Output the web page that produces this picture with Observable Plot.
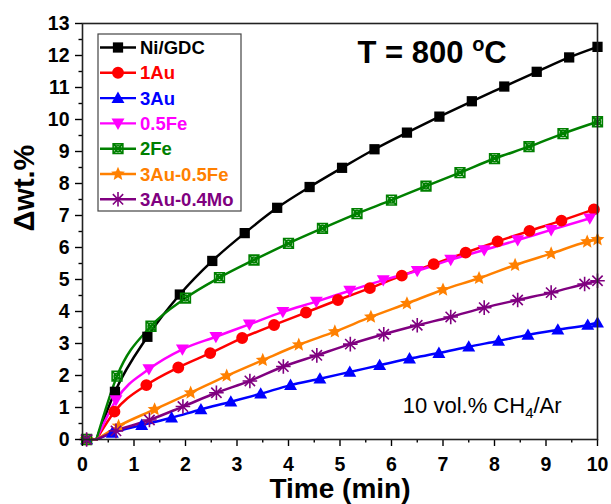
<!DOCTYPE html>
<html>
<head>
<meta charset="utf-8">
<script src="https://cdn.jsdelivr.net/npm/d3@7"></script>
<script src="https://cdn.jsdelivr.net/npm/@observablehq/plot@0.6"></script>
<style>
  html, body { margin: 0; padding: 0; background: #fff; }
  #chart svg { display: block; }
</style>
</head>
<body>
<div id="chart"></div>
<script>
// Carbon uptake (weight change) of anodes under 10 vol.% CH4/Ar at 800 °C
const seriesNames = ["Ni/GDC", "1Au", "3Au", "0.5Fe", "2Fe", "3Au-0.5Fe", "3Au-0.4Mo"];
const seriesColors = ["#000000", "#ff0000", "#0000ff", "#ff00ff", "#008000", "#ff8000", "#800080"];

// common baseline before weight gain starts (time in min, Δwt.%)
const leadTime = [0.08, 0.27];
const leadValue = [0, 0];

const timeNiGDC = [0.63, 1.26, 1.89, 2.52, 3.15, 3.78, 4.41, 5.04, 5.67, 6.30, 6.93, 7.56, 8.19, 8.82, 9.45, 10];
const wtNiGDC   = [1.49, 3.21, 4.53, 5.58, 6.45, 7.24, 7.89, 8.49, 9.07, 9.59, 10.09, 10.57, 11.03, 11.49, 11.94, 12.27];

const time1Au = [0.62, 1.24, 1.86, 2.48, 3.10, 3.72, 4.34, 4.96, 5.58, 6.20, 6.82, 7.44, 8.06, 8.68, 9.30, 9.93];
const wt1Au   = [0.87, 1.70, 2.25, 2.70, 3.17, 3.58, 3.97, 4.36, 4.73, 5.12, 5.48, 5.84, 6.19, 6.52, 6.84, 7.19];

const time3Au = [0.58, 1.15, 1.73, 2.30, 2.88, 3.46, 4.04, 4.61, 5.19, 5.77, 6.35, 6.92, 7.50, 8.08, 8.65, 9.23, 9.81, 10];
const wt3Au   = [0.21, 0.45, 0.68, 0.94, 1.18, 1.43, 1.70, 1.90, 2.11, 2.32, 2.53, 2.70, 2.90, 3.08, 3.27, 3.43, 3.58, 3.65];

const time05Fe = [0.65, 1.29, 1.94, 2.59, 3.24, 3.89, 4.54, 5.19, 5.84, 6.50, 7.15, 7.80, 8.45, 9.10, 9.85];
const wt05Fe   = [1.23, 2.20, 2.82, 3.21, 3.60, 3.99, 4.31, 4.65, 4.98, 5.27, 5.62, 5.92, 6.23, 6.55, 6.91];

const time2Fe = [0.67, 1.33, 2.00, 2.66, 3.33, 4.00, 4.66, 5.33, 6.00, 6.67, 7.33, 8.00, 8.67, 9.33, 10];
const wt2Fe   = [1.98, 3.54, 4.42, 5.06, 5.61, 6.13, 6.60, 7.06, 7.48, 7.92, 8.34, 8.78, 9.15, 9.56, 9.93];

const time3Au05Fe = [0.70, 1.40, 2.10, 2.80, 3.50, 4.20, 4.90, 5.60, 6.30, 7.00, 7.70, 8.40, 9.10, 9.80, 10];
const wt3Au05Fe   = [0.42, 0.94, 1.46, 1.99, 2.48, 2.96, 3.37, 3.83, 4.25, 4.68, 5.04, 5.45, 5.81, 6.18, 6.25];

const time3Au04Mo = [0.65, 1.30, 1.95, 2.60, 3.25, 3.90, 4.55, 5.20, 5.85, 6.50, 7.15, 7.80, 8.45, 9.10, 9.75, 10];
const wt3Au04Mo   = [0.27, 0.61, 1.03, 1.46, 1.83, 2.28, 2.63, 2.98, 3.29, 3.57, 3.83, 4.12, 4.36, 4.59, 4.86, 4.96];

const xTicks = d3.range(0, 11, 1);
const yTicks = d3.range(0, 14, 1);

const titleText = ["T = 800 ", "o", "C"];
const noteText = ["10 vol.% CH", "4", "/Ar"];

// ---- marker shapes (size is the symbol area, as Plot passes it) ----
const shape = f => ({ draw(ctx, size) { f(ctx, Math.sqrt(size / Math.PI)); } });
const symSquare = shape((c, r) => { const s = r * 0.95; c.rect(-s, -s, 2 * s, 2 * s); });
const symCircle = shape((c, r) => { const s = r * 1.1; c.moveTo(s, 0); c.arc(0, 0, s, 0, 2 * Math.PI); });
const symTriUp = shape((c, r) => { const s = r * 1.2; c.moveTo(0, -s); c.lineTo(s, s * 0.75); c.lineTo(-s, s * 0.75); c.closePath(); });
const symTriDown = shape((c, r) => { const s = r * 1.2; c.moveTo(0, s); c.lineTo(s, -s * 0.75); c.lineTo(-s, -s * 0.75); c.closePath(); });
const symBoxX = shape((c, r) => {
  const s = r * 0.9;
  c.rect(-s, -s, 2 * s, 2 * s);
  c.moveTo(-s, -s); c.lineTo(s, s); c.moveTo(s, -s); c.lineTo(-s, s);
  c.moveTo(s * 0.6, 0); c.arc(0, 0, s * 0.6, 0, 2 * Math.PI);
});
const symStar = shape((c, r) => {
  const R = r * 1.35, ri = R * 0.45;
  for (let i = 0; i < 10; i++) {
    const a = -Math.PI / 2 + i * Math.PI / 5, rr = i % 2 ? ri : R;
    const x = rr * Math.cos(a), y = rr * Math.sin(a);
    i ? c.lineTo(x, y) : c.moveTo(x, y);
  }
  c.closePath();
});
const symAsterisk = shape((c, r) => {
  const s = r * 1.35;
  for (let i = 0; i < 4; i++) {
    const a = i * Math.PI / 4;
    c.moveTo(-s * Math.cos(a), -s * Math.sin(a));
    c.lineTo(s * Math.cos(a), s * Math.sin(a));
  }
});

const series = [
  { name: seriesNames[0], color: seriesColors[0], time: timeNiGDC, wt: wtNiGDC, symbol: symSquare, open: false },
  { name: seriesNames[1], color: seriesColors[1], time: time1Au, wt: wt1Au, symbol: symCircle, open: false },
  { name: seriesNames[2], color: seriesColors[2], time: time3Au, wt: wt3Au, symbol: symTriUp, open: false },
  { name: seriesNames[3], color: seriesColors[3], time: time05Fe, wt: wt05Fe, symbol: symTriDown, open: false },
  { name: seriesNames[4], color: seriesColors[4], time: time2Fe, wt: wt2Fe, symbol: symBoxX, open: true },
  { name: seriesNames[5], color: seriesColors[5], time: time3Au05Fe, wt: wt3Au05Fe, symbol: symStar, open: false },
  { name: seriesNames[6], color: seriesColors[6], time: time3Au04Mo, wt: wt3Au04Mo, symbol: symAsterisk, open: true }
];

// tidy rows: the flat lead-in, and the growth curve starting where it ends
const leadRows = [], curveRows = [], markerRows = [];
for (const s of series) {
  leadTime.forEach((t, i) => leadRows.push({ series: s.name, t, v: leadValue[i] }));
  curveRows.push({ series: s.name, t: leadTime[1], v: leadValue[1] });
  markerRows.push({ series: s.name, t: leadTime[0], v: leadValue[0], open: s.open });
  s.time.forEach((t, i) => {
    curveRows.push({ series: s.name, t, v: s.wt[i] });
    markerRows.push({ series: s.name, t, v: s.wt[i], open: s.open });
  });
}

const font = "Liberation Sans, Arial, Helvetica, sans-serif";

const chart = Plot.plot({
  width: 611,
  height: 504,
  marginLeft: 82,
  marginRight: 14,
  marginTop: 23,
  marginBottom: 65,
  style: { fontFamily: font, background: "#fff", color: "#000" },
  x: { domain: [0, 10] },
  y: { domain: [0, 13] },
  color: { domain: seriesNames, range: seriesColors },
  symbol: { domain: seriesNames, range: series.map(s => s.symbol) },
  marks: [
    Plot.line(leadRows, { x: "t", y: "v", z: "series", stroke: "series", strokeWidth: 2.2 }),
    Plot.line(curveRows, { x: "t", y: "v", z: "series", stroke: "series", strokeWidth: 2.5, curve: "monotone-x" }),
    Plot.dot(markerRows.filter(d => !d.open), { x: "t", y: "v", symbol: "series", fill: "series", r: 5.4 }),
    Plot.dot(markerRows.filter(d => d.open), { x: "t", y: "v", symbol: "series", stroke: "series", fill: "none", strokeWidth: 1.6, r: 5.4 }),
    Plot.axisX({ ticks: xTicks, tickSize: 7, tickPadding: 11, strokeWidth: 1.4, fontSize: 19.5, fontWeight: "bold", label: null, tickFormat: d3.format("d") }),
    Plot.axisX({ ticks: d3.range(0.5, 10, 1), tickSize: 3.5, strokeWidth: 1.4, text: null, label: null }),
    Plot.axisY({ ticks: yTicks, tickSize: 7, tickPadding: 6, strokeWidth: 1.4, fontSize: 19.5, fontWeight: "bold", label: null, tickFormat: d3.format("d") }),
    Plot.axisY({ ticks: d3.range(0.5, 13, 1), tickSize: 3.5, strokeWidth: 1.4, text: null, label: null }),
    Plot.text(["Time (min)"], { frameAnchor: "bottom", dy: 50, lineAnchor: "middle", fontSize: 28, fontWeight: "bold" }),
    Plot.text(["Δwt.%"], { frameAnchor: "left", dx: -58, rotate: -90, lineAnchor: "middle", fontSize: 29, fontWeight: "bold" }),
    Plot.frame({ stroke: "#222", strokeWidth: 1.6 })
  ]
});

document.getElementById("chart").appendChild(chart);

const svg = d3.select(chart);
const xs = chart.scale("x"), ys = chart.scale("y");

// title with a raised "o" for degrees
const title = svg.append("text")
  .attr("x", xs.apply(5.35)).attr("y", ys.apply(11.76))
  .attr("text-anchor", "start")
  .attr("font-family", font).attr("font-weight", "bold").attr("font-size", 31).attr("fill", "#000");
title.append("tspan").text(titleText[0]);
title.append("tspan").text(titleText[1]).attr("font-size", 20).attr("dy", -12);
title.append("tspan").text(titleText[2]).attr("dy", 12);

// gas composition note with subscript
const note = svg.append("text")
  .attr("x", xs.apply(6.23)).attr("y", ys.apply(0.81))
  .attr("text-anchor", "start")
  .attr("font-family", font).attr("font-size", 22).attr("fill", "#000");
note.append("tspan").text(noteText[0]);
note.append("tspan").text(noteText[1]).attr("font-size", 15).attr("dy", 5);
note.append("tspan").text(noteText[2]).attr("dy", -5);

// legend
const lg = svg.append("g").attr("transform", `translate(${82 + 16},${23 + 11})`);
lg.append("rect").attr("width", 143).attr("height", 177).attr("fill", "#fff").attr("stroke", "#444").attr("stroke-width", 1.2);
series.forEach((s, i) => {
  const cy = 13.5 + i * 25.3;
  const row = lg.append("g").attr("transform", `translate(0,${cy})`);
  row.append("line").attr("x1", 2).attr("x2", 38).attr("y1", 0).attr("y2", 0)
    .attr("stroke", s.color).attr("stroke-width", 2.4);
  const p = d3.path();
  s.symbol.draw(p, 5.4 * 5.4 * Math.PI);
  row.append("path").attr("transform", "translate(20,0)").attr("d", p.toString())
    .attr("fill", s.open ? "none" : s.color)
    .attr("stroke", s.open ? s.color : "none").attr("stroke-width", 1.6);
  row.append("text").attr("x", 42).attr("y", 0).attr("dy", "0.36em")
    .attr("text-anchor", "start")
    .attr("font-family", font).attr("font-weight", "bold").attr("font-size", 18.5)
    .attr("fill", s.color).text(s.name);
});
</script>
</body>
</html>
